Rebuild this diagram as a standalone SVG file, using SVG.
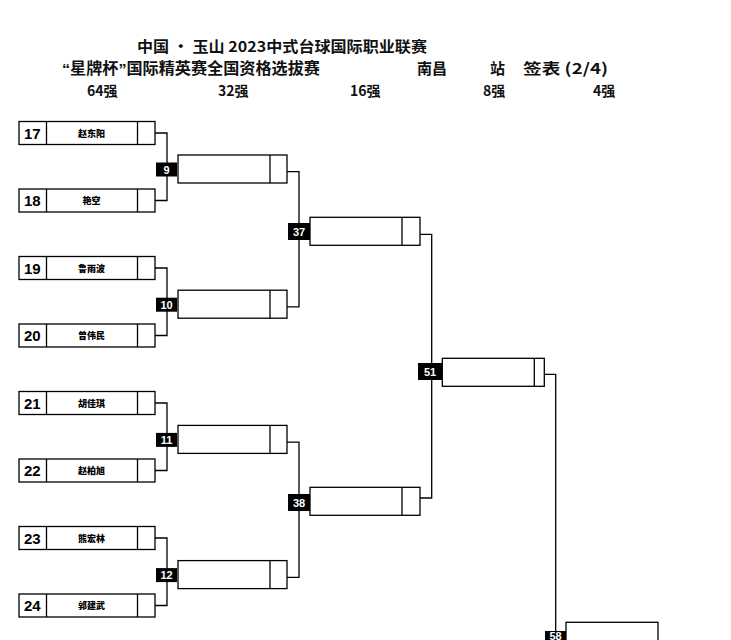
<svg xmlns="http://www.w3.org/2000/svg" width="731" height="640" viewBox="0 0 731 640">
<style>
.bx{fill:#fff;stroke:#000;stroke-width:1.3}
.ln{fill:none;stroke:#000;stroke-width:1.3}
.hd{font-family:"Noto Sans CJK SC","Noto Sans",sans-serif;font-weight:bold;fill:#111}
.q{font-family:"Liberation Sans",Arial,sans-serif}
.seed{font-family:"Liberation Sans",Arial,sans-serif;font-weight:bold;font-size:15px;fill:#000}
.nm{font-family:"Noto Sans CJK SC",sans-serif;font-weight:900;font-size:9px;fill:#000;text-anchor:middle}
.lb{fill:#000}
.lt{font-family:"Liberation Sans",Arial,sans-serif;font-weight:bold;font-size:11px;fill:#fff;text-anchor:middle}
</style>
<rect width="731" height="640" fill="#fff"/>
<g id="header">
<text class="hd" x="137" y="52" font-size="15" textLength="290" lengthAdjust="spacingAndGlyphs">中国 · 玉山 2023中式台球国际职业联赛</text>
<text class="hd" x="62" y="74" font-size="15.5" textLength="258" lengthAdjust="spacingAndGlyphs"><tspan class="q">“</tspan>星牌杯<tspan class="q">”</tspan>国际精英赛全国资格选拔赛</text>
<text class="hd" x="417" y="74" font-size="15">南昌</text>
<text class="hd" x="490" y="74" font-size="15">站</text>
<text class="hd" x="523" y="74" font-size="15" textLength="85" lengthAdjust="spacingAndGlyphs">签表 (2/4)</text>
<text class="hd" x="87" y="96" font-size="14">64强</text>
<text class="hd" x="218" y="96" font-size="14">32强</text>
<text class="hd" x="350" y="96" font-size="14">16强</text>
<text class="hd" x="483" y="96" font-size="14">8强</text>
<text class="hd" x="593" y="96" font-size="14">4强</text>
</g>
<g id="connectors">
<path class="ln" d="M155 133 H167 V200.5 H155"/>
<path class="ln" d="M155 268 H167 V335.5 H155"/>
<path class="ln" d="M155 403 H167 V470.5 H155"/>
<path class="ln" d="M155 538 H167 V605.5 H155"/>
<path class="ln" d="M287 171.7 H299 V306.9 H287"/>
<path class="ln" d="M287 442.1 H299 V577.3 H287"/>
<path class="ln" d="M420 234.3 H431.7 V498 H420"/>
<path class="ln" d="M544.3 374.3 H555.7 V632"/>
</g>
<g id="p17"><rect class="bx" x="19" y="121.5" width="136" height="23"/><path class="ln" d="M46.5 121.5V144.5M137.5 121.5V144.5"/><text class="seed" x="24" y="138.5">17</text><text class="nm" x="91.5" y="136.5">赵东阳</text></g>
<g id="p18"><rect class="bx" x="19" y="189" width="136" height="23"/><path class="ln" d="M46.5 189V212M137.5 189V212"/><text class="seed" x="24" y="206">18</text><text class="nm" x="91.5" y="204">艳空</text></g>
<g id="p19"><rect class="bx" x="19" y="256.5" width="136" height="23"/><path class="ln" d="M46.5 256.5V279.5M137.5 256.5V279.5"/><text class="seed" x="24" y="273.5">19</text><text class="nm" x="91.5" y="271.5">鲁雨波</text></g>
<g id="p20"><rect class="bx" x="19" y="324" width="136" height="23"/><path class="ln" d="M46.5 324V347M137.5 324V347"/><text class="seed" x="24" y="341">20</text><text class="nm" x="91.5" y="339">曾伟民</text></g>
<g id="p21"><rect class="bx" x="19" y="391.5" width="136" height="23"/><path class="ln" d="M46.5 391.5V414.5M137.5 391.5V414.5"/><text class="seed" x="24" y="408.5">21</text><text class="nm" x="91.5" y="406.5">胡佳琪</text></g>
<g id="p22"><rect class="bx" x="19" y="459" width="136" height="23"/><path class="ln" d="M46.5 459V482M137.5 459V482"/><text class="seed" x="24" y="476">22</text><text class="nm" x="91.5" y="474">赵柏旭</text></g>
<g id="p23"><rect class="bx" x="19" y="526.5" width="136" height="23"/><path class="ln" d="M46.5 526.5V549.5M137.5 526.5V549.5"/><text class="seed" x="24" y="543.5">23</text><text class="nm" x="91.5" y="541.5">熊宏林</text></g>
<g id="p24"><rect class="bx" x="19" y="594" width="136" height="23"/><path class="ln" d="M46.5 594V617M137.5 594V617"/><text class="seed" x="24" y="611">24</text><text class="nm" x="91.5" y="609">郭建武</text></g>
<g id="m9"><rect class="bx" x="178" y="155" width="109" height="28"/><path class="ln" d="M270 155V183"/><rect class="lb" x="156" y="162.5" width="21" height="14"/><text class="lt" x="166.5" y="173.5">9</text></g>
<g id="m10"><rect class="bx" x="178" y="290.2" width="109" height="28"/><path class="ln" d="M270 290.2V318.2"/><rect class="lb" x="156" y="297.7" width="21" height="14"/><text class="lt" x="166.5" y="308.7">10</text></g>
<g id="m11"><rect class="bx" x="178" y="425.4" width="109" height="28"/><path class="ln" d="M270 425.4V453.4"/><rect class="lb" x="156" y="432.9" width="21" height="14"/><text class="lt" x="166.5" y="443.9">11</text></g>
<g id="m12"><rect class="bx" x="178" y="560.6" width="109" height="28"/><path class="ln" d="M270 560.6V588.6"/><rect class="lb" x="156" y="568.1" width="21" height="14"/><text class="lt" x="166.5" y="579.1">12</text></g>
<g id="m37"><rect class="bx" x="310" y="217.3" width="110" height="28"/><path class="ln" d="M402 217.3V245.3"/><rect class="lb" x="288" y="223" width="22" height="17"/><text class="lt" x="299" y="235.5">37</text></g>
<g id="m38"><rect class="bx" x="310" y="487.3" width="110" height="28"/><path class="ln" d="M402 487.3V515.3"/><rect class="lb" x="288" y="494" width="22" height="17"/><text class="lt" x="299" y="506.5">38</text></g>
<g id="m51"><rect class="bx" x="442.3" y="358.3" width="102" height="28"/><path class="ln" d="M534.3 358.3V386.3"/><rect class="lb" x="418" y="363" width="24" height="17"/><text class="lt" x="430" y="375.5">51</text></g>
<g id="m58"><rect class="bx" x="566" y="622.3" width="92" height="30"/><rect class="lb" x="545" y="631" width="21" height="12"/><text class="lt" x="555.5" y="639.5" font-size="9.5">58</text></g>
</svg>
